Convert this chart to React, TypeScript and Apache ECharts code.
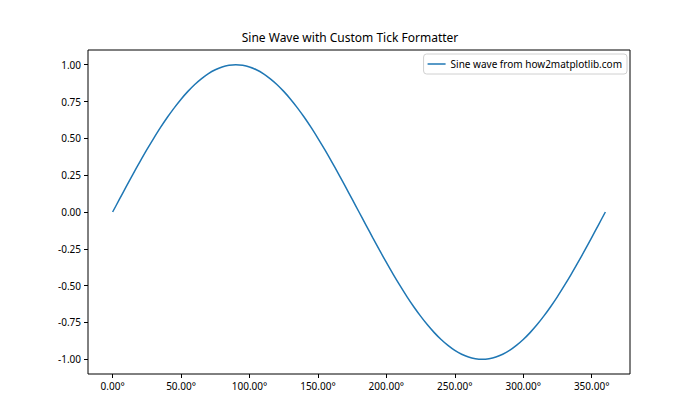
import React, { useEffect, useRef } from "react";
import * as echarts from "echarts";

const degrees: number[] = [
  0, 5, 10, 15, 20, 25, 30, 35, 40, 45, 50, 55, 60, 65, 70, 75, 80, 85, 90,
  95, 100, 105, 110, 115, 120, 125, 130, 135, 140, 145, 150, 155, 160, 165, 170, 175, 180,
  185, 190, 195, 200, 205, 210, 215, 220, 225, 230, 235, 240, 245, 250, 255, 260, 265, 270,
  275, 280, 285, 290, 295, 300, 305, 310, 315, 320, 325, 330, 335, 340, 345, 350, 355, 360,
];
const sineValues: number[] = [
  0, 0.087, 0.174, 0.259, 0.342, 0.423, 0.5, 0.574, 0.643, 0.707, 0.766, 0.819, 0.866, 0.906, 0.94, 0.966, 0.985, 0.996, 1,
  0.996, 0.985, 0.966, 0.94, 0.906, 0.866, 0.819, 0.766, 0.707, 0.643, 0.574, 0.5, 0.423, 0.342, 0.259, 0.174, 0.087, 0,
  -0.087, -0.174, -0.259, -0.342, -0.423, -0.5, -0.574, -0.643, -0.707, -0.766, -0.819, -0.866, -0.906, -0.94, -0.966, -0.985, -0.996, -1,
  -0.996, -0.985, -0.966, -0.94, -0.906, -0.866, -0.819, -0.766, -0.707, -0.643, -0.574, -0.5, -0.423, -0.342, -0.259, -0.174, -0.087, 0,
];
const xTicks: number[] = [0, 50, 100, 150, 200, 250, 300, 350];
const yTicks: number[] = [-1, -0.75, -0.5, -0.25, 0, 0.25, 0.5, 0.75, 1];
const titleText = "Sine Wave with Custom Tick Formatter";
const seriesName = "Sine wave from how2matplotlib.com";

const FONT = "Noto Sans";

export default function App() {
  const ref = useRef<HTMLDivElement>(null);
  useEffect(() => {
    if (!ref.current) return;
    const chart = echarts.init(ref.current, undefined, { renderer: "svg" });
    chart.setOption({
      animation: false,
      backgroundColor: "#fff",
      textStyle: { fontFamily: FONT },
      title: {
        text: titleText,
        left: "center",
        top: 31,
        padding: 0,
        textStyle: { fontFamily: FONT, fontSize: 12, fontWeight: "normal", color: "#000" },
      },
      legend: {
        right: 73,
        top: 54,
        orient: "vertical",
        icon: "rect",
        itemWidth: 18,
        itemHeight: 1.5,
        itemGap: 8,
        padding: [5, 5, 5, 4],
        borderColor: "#d0d0d0",
        borderWidth: 1,
        borderRadius: 3,
        textStyle: { fontFamily: FONT, fontSize: 10, color: "#000" },
        data: [seriesName],
      },
      grid: {
        left: 88,
        right: 70,
        top: 50,
        bottom: 46,
        show: true,
        borderColor: "#000",
        borderWidth: 1,
        backgroundColor: "transparent",
      },
      xAxis: {
        type: "value",
        min: -18,
        max: 378,
        splitLine: { show: false },
        axisLine: { show: false, onZero: false },
        axisTick: { show: true, length: 4, inside: false, customValues: xTicks, lineStyle: { color: "#000" } },
        axisLabel: {
          customValues: xTicks,
          fontFamily: FONT,
          fontSize: 10,
          color: "#000",
          margin: 7,
          formatter: (v: number) => v.toFixed(2) + "°",
        },
      },
      yAxis: {
        type: "value",
        min: -1.1,
        max: 1.1,
        splitLine: { show: false },
        axisLine: { show: false, onZero: false },
        axisTick: { show: true, length: 4, inside: false, customValues: yTicks, lineStyle: { color: "#000" } },
        axisLabel: {
          customValues: yTicks,
          fontFamily: FONT,
          fontSize: 10,
          color: "#000",
          margin: 7,
          formatter: (v: number) => v.toFixed(2),
        },
      },
      series: [
        {
          name: seriesName,
          type: "line",
          data: degrees.map((d, i) => [d, sineValues[i]]),
          showSymbol: false,
          smooth: 0.3,
          lineStyle: { color: "#1f77b4", width: 1.5 },
          itemStyle: { color: "#1f77b4" },
        },
      ],
    });
    return () => chart.dispose();
  }, []);
  return <div ref={ref} style={{ width: 700, height: 420, position: "absolute", left: 0, top: 0 }} />;
}
